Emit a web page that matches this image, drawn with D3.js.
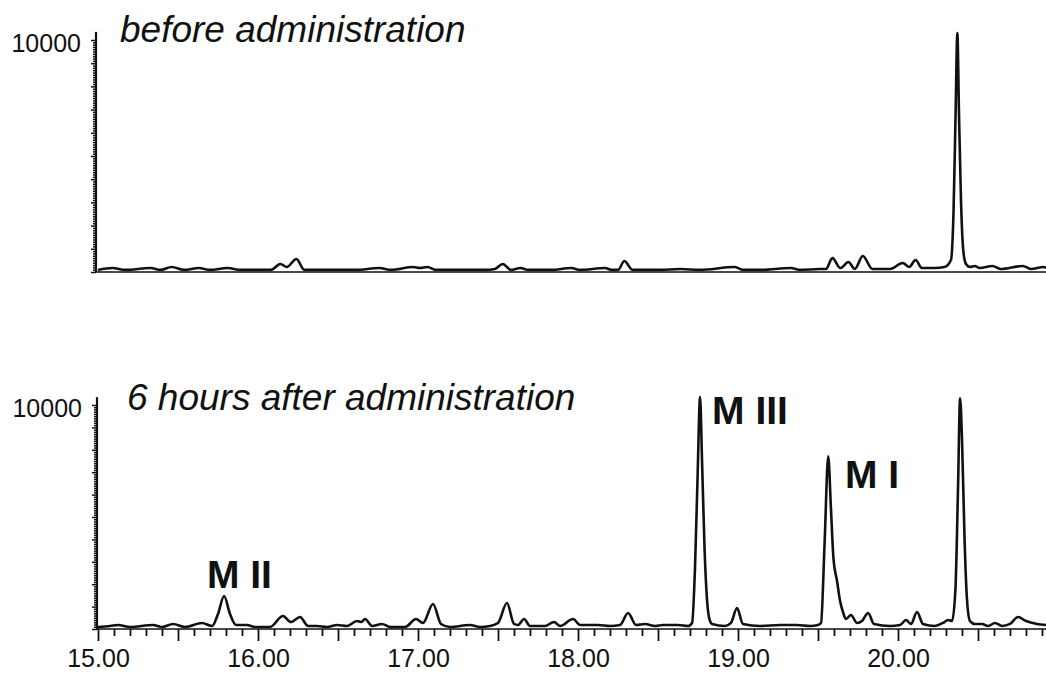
<!DOCTYPE html>
<html>
<head>
<meta charset="utf-8">
<script src="https://cdn.jsdelivr.net/npm/d3@7"></script>
<style>
  body { margin: 0; background: #fff; }
  svg { display: block; font-family: "Liberation Sans", Arial, sans-serif; }
</style>
</head>
<body>
<svg id="chart" width="1046" height="673"></svg>
<script>
// retention time (min) / abundance
const beforeTime = [15.00,15.09,15.17,15.33,15.39,15.46,15.54,15.63,15.70,15.81,15.89,15.98,16.08,16.14,16.18,16.24,16.29,16.45,16.61,16.76,16.83,16.97,17.01,17.06,17.11,17.26,17.42,17.48,17.53,17.58,17.64,17.69,17.83,17.96,18.01,18.17,18.21,18.25,18.29,18.34,18.51,18.64,18.76,18.98,19.03,19.14,19.33,19.39,19.51,19.55,19.59,19.64,19.69,19.73,19.78,19.84,19.95,20.03,20.07,20.11,20.15,20.23,20.29,20.331,20.347,20.359,20.371,20.381,20.394,20.409,20.425,20.45,20.48,20.51,20.59,20.64,20.78,20.83,20.91,20.93];
const beforeAbund = [90,170,90,170,90,215,90,170,90,170,90,90,90,345,215,560,90,90,90,170,90,215,170,215,90,90,90,130,345,90,170,90,90,170,90,170,90,90,475,90,90,130,90,215,90,90,170,90,130,130,600,170,430,130,690,130,130,390,215,515,170,170,215,520,2590,6470,10300,6900,3020,860,345,215,260,170,260,130,260,130,215,170];

const afterTime = [15.000,15.075,15.125,15.200,15.344,15.400,15.469,15.544,15.650,15.713,15.750,15.788,15.825,15.863,15.931,15.981,16.075,16.156,16.206,16.263,16.313,16.369,16.431,16.494,16.556,16.619,16.644,16.669,16.713,16.775,16.825,16.919,16.988,17.031,17.094,17.144,17.200,17.325,17.388,17.450,17.500,17.556,17.600,17.625,17.663,17.700,17.794,17.850,17.888,17.969,18.013,18.125,18.200,18.263,18.313,18.363,18.419,18.481,18.531,18.625,18.688,18.713,18.731,18.747,18.763,18.775,18.791,18.806,18.825,18.838,18.919,18.956,18.994,19.031,19.138,19.263,19.369,19.450,19.500,19.519,19.541,19.564,19.581,19.597,19.619,19.638,19.656,19.675,19.706,19.744,19.775,19.813,19.850,19.950,20.013,20.050,20.081,20.119,20.156,20.231,20.281,20.313,20.338,20.359,20.375,20.388,20.400,20.416,20.431,20.450,20.481,20.525,20.563,20.606,20.650,20.700,20.750,20.800,20.869,20.925];
const afterAbund = [90,135,180,90,180,90,225,90,270,135,670,1470,670,180,180,90,90,580,310,535,135,135,90,180,135,355,310,445,135,225,90,90,445,270,1115,225,90,180,90,135,270,1160,225,180,445,135,135,310,135,445,180,180,135,180,715,180,225,135,180,180,135,270,2680,6690,10350,7580,3570,1340,355,225,135,270,935,225,135,180,180,135,180,270,3790,7715,5350,3120,2140,1250,760,445,625,270,355,715,225,135,180,400,225,760,225,135,270,400,360,1780,6240,10300,8470,4010,1340,355,225,225,135,270,135,225,535,355,225,180];

const panelTitles = ["before administration", "6 hours after administration"];
const peakNames = ["M III", "M I", "M II"];
const peakTime = [18.838, 19.669, 15.681];
const peakAbund = [9150, 6290, 1830];

const width = 1046;
const height = 673;

const svg = d3.select("#chart");

const x = d3.scaleLinear().domain([15, 20.925]).range([98, 1046]);
const yTop = d3.scaleLinear().domain([0, 10000]).range([272, 40]);
const yBot = d3.scaleLinear().domain([0, 10000]).range([629, 405]);

function drawPanel(y, times, abund, title, axisX){
  const g = svg.append("g");

  // y axis with fine ticks
  const yAxis = d3.axisLeft(y)
    .tickValues(d3.range(0, 10001, 100))
    .tickSizeOuter(0)
    .tickSize(2)
    .tickFormat(d => d === 10000 ? "10000" : "");

  const ya = g.append("g")
    .attr("transform", `translate(${axisX},0)`)
    .call(yAxis);
  ya.select(".domain").remove();
  ya.selectAll(".tick line")
    .attr("x2", d => d % 1000 === 0 ? -5 : -3)
    .attr("stroke", "#111")
    .attr("stroke-width", 1.5);
  ya.selectAll(".tick text")
    .attr("x", -15)
    .attr("dy", "0.45em")
    .attr("font-size", 25)
    .attr("fill", "#111");

  g.append("line")
    .attr("x1", axisX).attr("x2", axisX)
    .attr("y1", y(0)).attr("y2", y(10350))
    .attr("stroke", "#111").attr("stroke-width", 2.2);

  g.append("line")
    .attr("x1", axisX).attr("x2", width)
    .attr("y1", y(0)).attr("y2", y(0))
    .attr("stroke", "#111").attr("stroke-width", 1.5);

  const line = d3.line()
    .x((d, i) => x(times[i]))
    .y(d => y(d))
    .curve(d3.curveMonotoneX);

  g.append("path")
    .attr("d", line(abund))
    .attr("fill", "none")
    .attr("stroke", "#111")
    .attr("stroke-width", 2.6)
    .attr("stroke-linejoin", "round");

  g.append("text")
    .attr("x", x(15) + (title.startsWith("6") ? 29 : 22))
    .attr("y", y(10000) + (title.startsWith("6") ? 5 : 2))
    .attr("font-size", 37)
    .attr("font-style", "italic")
    .attr("fill", "#111")
    .text(title);

  return g;
}

drawPanel(yTop, beforeTime, beforeAbund, panelTitles[0], 96);
const bottom = drawPanel(yBot, afterTime, afterAbund, panelTitles[1], 97);

// time axis
const xAxis = d3.axisBottom(x)
  .tickValues(d3.range(150, 210).map(d => d / 10))
  .tickSizeOuter(0)
  .tickSize(12)
  .tickPadding(8)
  .tickFormat(d => Math.abs(d - Math.round(d)) < 1e-6 ? d.toFixed(2) : "");

const xa = bottom.append("g")
  .attr("transform", `translate(0,${yBot(0)})`)
  .call(xAxis);
xa.select(".domain").remove();
xa.selectAll(".tick line")
  .attr("y2", d => Math.abs(d * 2 - Math.round(d * 2)) < 1e-6 ? 12 : 7)
  .attr("stroke", "#111")
  .attr("stroke-width", 1.8);
xa.selectAll(".tick text")
  .attr("font-size", 25)
  .attr("fill", "#111");

// metabolite labels
bottom.selectAll("text.peak")
  .data(peakNames)
  .join("text")
  .attr("class", "peak")
  .attr("x", (d, i) => x(peakTime[i]))
  .attr("y", (d, i) => yBot(peakAbund[i]))
  .attr("font-size", 39)
  .attr("font-weight", "bold")
  .attr("fill", "#111")
  .text(d => d);
</script>
</body>
</html>
